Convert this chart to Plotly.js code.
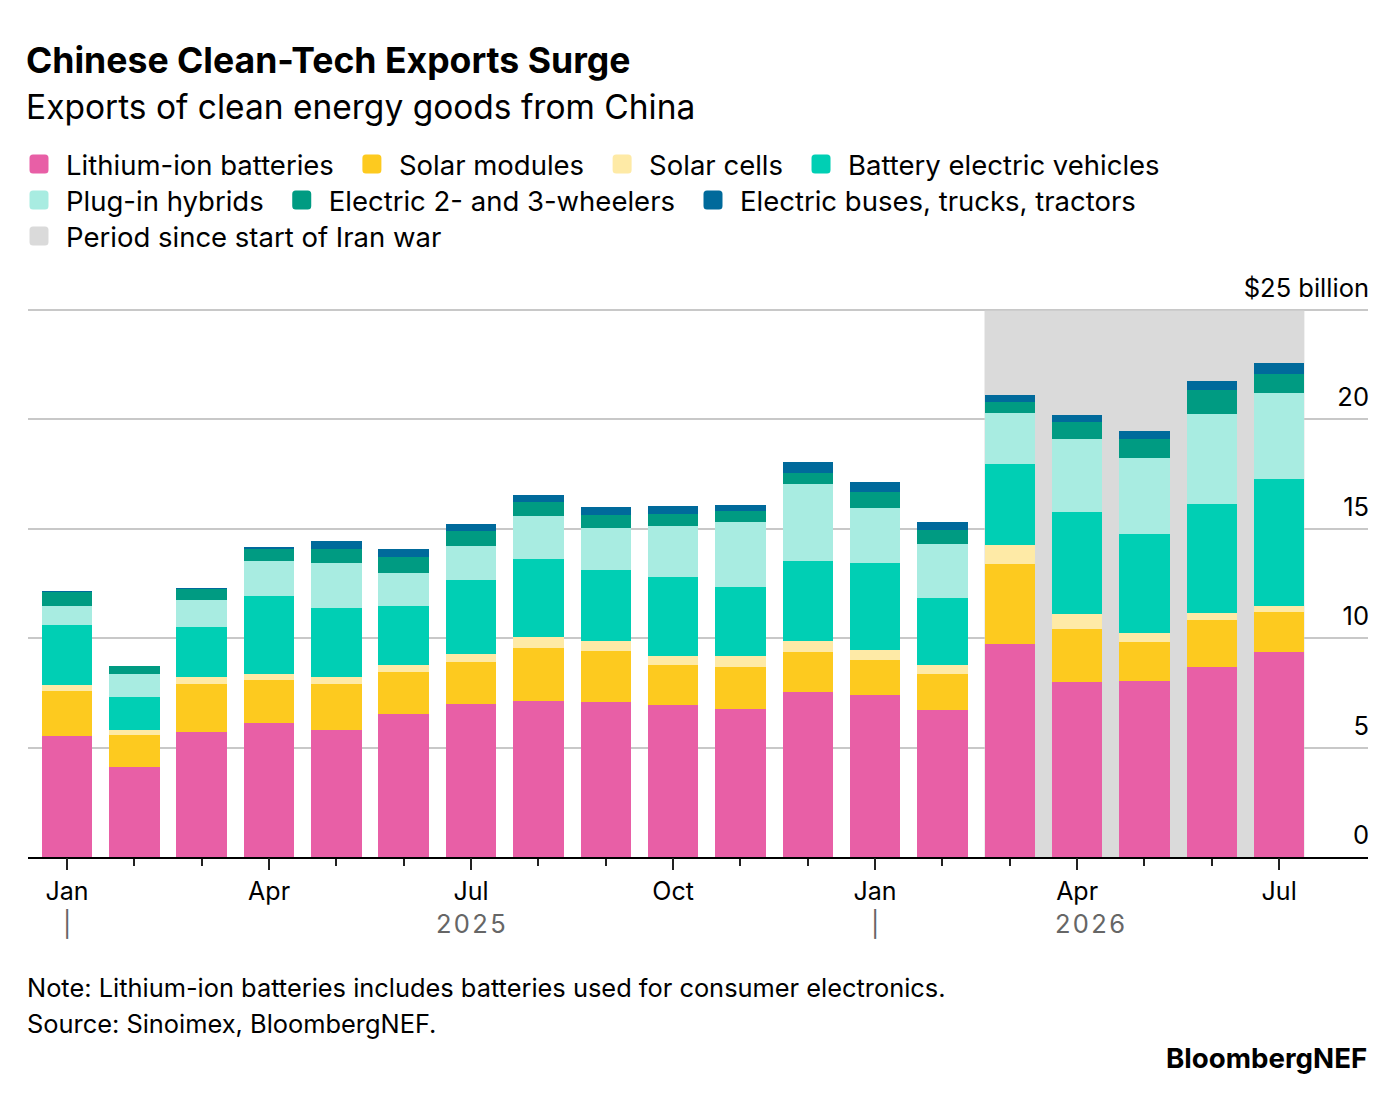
<!DOCTYPE html>
<html>
<head>
<meta charset="utf-8">
<script src="https://cdn.plot.ly/plotly-3.0.1.min.js"></script>
<style>
  html, body { margin: 0; padding: 0; background: #fff; }
  #chart { width: 1396px; height: 1102px; }
</style>
</head>
<body>
<div id="chart"></div>
<script>
// Monthly exports of clean energy goods from China, $ billion
const months = ["Jan 2025", "Feb 2025", "Mar 2025", "Apr 2025", "May 2025", "Jun 2025",
                "Jul 2025", "Aug 2025", "Sep 2025", "Oct 2025", "Nov 2025", "Dec 2025",
                "Jan 2026", "Feb 2026", "Mar 2026", "Apr 2026", "May 2026", "Jun 2026", "Jul 2026"];

const batteries    = [5.53, 4.10, 5.73, 6.10, 5.82, 6.55, 7.00, 7.12, 7.06, 6.92, 6.77, 7.54, 7.41, 6.72, 9.73, 7.98, 8.03, 8.68, 9.34];
const solarModules = [2.03, 1.45, 2.15, 1.98, 2.06, 1.92, 1.92, 2.44, 2.37, 1.83, 1.89, 1.83, 1.60, 1.62, 3.63, 2.42, 1.78, 2.16, 1.87];
const solarCells   = [0.29, 0.23, 0.32, 0.29, 0.36, 0.30, 0.33, 0.49, 0.43, 0.45, 0.54, 0.49, 0.44, 0.45, 0.91, 0.68, 0.43, 0.32, 0.26];
const bevs         = [2.73, 1.52, 2.29, 3.56, 3.13, 2.71, 3.38, 3.58, 3.23, 3.60, 3.15, 3.66, 3.99, 3.02, 3.66, 4.69, 4.53, 4.98, 5.81];
const phevs        = [0.87, 1.07, 1.23, 1.59, 2.04, 1.49, 1.58, 1.93, 1.94, 2.32, 2.94, 3.50, 2.52, 2.47, 2.34, 3.30, 3.43, 4.10, 3.92];
const wheelers     = [0.64, 0.33, 0.53, 0.56, 0.64, 0.75, 0.70, 0.64, 0.61, 0.53, 0.52, 0.52, 0.72, 0.67, 0.51, 0.80, 0.89, 1.08, 0.87];
const buses        = [0.06, 0.02, 0.02, 0.08, 0.37, 0.35, 0.30, 0.35, 0.36, 0.40, 0.25, 0.49, 0.43, 0.37, 0.33, 0.32, 0.35, 0.40, 0.48];

const yTicks = [0, 5, 10, 15, 20, 25];
const yTickText = ["0", "5", "10", "15", "20", "$25 billion"];
const labeledMonths = ["Jan", "Apr", "Jul", "Oct"];
const years = ["2025", "2026"];
const warStart = "Mar 2026";

const FONT = "Inter, 'Liberation Sans', sans-serif";
const W = 1396, H = 1102;
const BAR_GAP = 0.25;
const xRange = [-0.58, 19.32];
const yRange = [0, 25.3];   // a little headroom so the $25 billion gridline is drawn
const MARGIN = {l: 28, r: 28, t: 303.3, b: 245};

// page pixel row -> paper y (plot area bottom is 0, top is 1)
const plotH = H - MARGIN.t - MARGIN.b;
function paperY(px) { return (H - MARGIN.b - px) / plotH; }

// series: name, values, colour, which legend row
const series = [
    ["Lithium-ion batteries", batteries, "#e85fa6", "legend"],
    ["Solar modules", solarModules, "#fdca1f", "legend"],
    ["Solar cells", solarCells, "#feeaa6", "legend"],
    ["Battery electric vehicles", bevs, "#00cfb4", "legend"],
    ["Plug-in hybrids", phevs, "#a8ece1", "legend2"],
    ["Electric 2- and 3-wheelers", wheelers, "#009b82", "legend2"],
    ["Electric buses, trucks, tractors", buses, "#006a9b", "legend2"]
];

let data = series.map(s => ({
    type: "bar",
    name: s[0],
    x: months,
    y: s[1],
    marker: {color: s[2], line: {width: 0}},
    legend: s[3],
    hoverinfo: "skip"
}));

// empty trace so the overlaid label axis gets drawn
data.push({type: "scatter", x: [], y: [], xaxis: "x2", yaxis: "y", showlegend: false, hoverinfo: "skip"});

// x tick labels only on quarter months, with a year divider under January
let tickIdx = [];
let tickText = [];
months.forEach((m, i) => {
    let mon = m.slice(0, 3);
    if (labeledMonths.includes(mon)) {
        tickIdx.push(i);
        tickText.push(mon === "Jan" ? mon + "<br><span style='color:#666'>|</span>" : mon);
    }
});

// year labels centred under their months
let halfBar = (1 - BAR_GAP) / 2;
let jan26 = months.indexOf("Jan 2026");
let yearPos = [jan26 / 2, (jan26 + months.length - 1 + halfBar) / 2];

// legend rows are placed against the whole page
let legendBase = {
    orientation: "h",
    xref: "container", yref: "container",
    x: 6 / W,
    xanchor: "left",
    yanchor: "middle",
    itemwidth: 50,
    traceorder: "normal",
    bgcolor: "rgba(0,0,0,0)",
    font: {family: FONT, size: 27.5, color: "#000"}
};

let annotations = years.map((yr, i) => ({
    text: yr.split("").join("\u200a"),
    x: yearPos[i], xref: "x", y: paperY(923), yref: "paper",
    xanchor: "center", yanchor: "middle", showarrow: false,
    font: {family: FONT, size: 25.5, color: "#666"}
}));
annotations.push(
    {text: "Note: Lithium-ion batteries includes batteries used for consumer electronics.",
     x: -0.002, xref: "paper", y: paperY(987), yref: "paper", xanchor: "left", yanchor: "middle",
     showarrow: false, font: {family: FONT, size: 25.4, color: "#000"}},
    {text: "Source: Sinoimex, BloombergNEF.",
     x: -0.002, xref: "paper", y: paperY(1023), yref: "paper", xanchor: "left", yanchor: "middle",
     showarrow: false, font: {family: FONT, size: 25.4, color: "#000"}},
    {text: "<b>BloombergNEF</b>",
     x: 1.001, xref: "paper", y: paperY(1058), yref: "paper", xanchor: "right", yanchor: "middle",
     showarrow: false, font: {family: FONT, size: 27.7, color: "#000"}}
);

let layout = {
    width: W,
    height: H,
    margin: MARGIN,
    paper_bgcolor: "#fff",
    plot_bgcolor: "#fff",
    barmode: "stack",
    bargap: BAR_GAP,
    font: {family: FONT, color: "#000"},
    title: {
        text: "<b>Chinese Clean-Tech Exports Surge</b><br>" +
              "<span style='font-size:33.5px'>Exports of clean energy goods from China</span>",
        font: {family: FONT, size: 35.6, color: "#000"},
        xref: "container", x: 26 / W, xanchor: "left",
        yref: "container", y: 1 - 73 / H, yanchor: "top"
    },
    showlegend: true,
    legend: Object.assign({}, legendBase, {y: 1 - 164 / H}),
    legend2: Object.assign({}, legendBase, {y: 1 - 200 / H}),
    legend3: Object.assign({}, legendBase, {y: 1 - 236 / H}),
    xaxis: {
        type: "category",
        range: xRange,
        showgrid: false,
        zeroline: false,
        showline: true, linecolor: "#000", linewidth: 2,
        ticks: "outside", ticklen: 7, tickwidth: 2, tickcolor: "#222",
        showticklabels: false,
        fixedrange: true
    },
    xaxis2: {
        type: "linear",
        overlaying: "x",
        anchor: "y",
        side: "bottom",
        range: xRange,
        showgrid: false, zeroline: false, showline: false,
        tickmode: "array", tickvals: tickIdx, ticktext: tickText,
        ticks: "outside", ticklen: 12, tickwidth: 2, tickcolor: "#222",
        tickfont: {family: FONT, size: 25, color: "#000"},
        fixedrange: true
    },
    yaxis: {
        range: yRange,
        side: "right",
        tickmode: "array", tickvals: yTicks, ticktext: yTickText,
        ticks: "",
        ticklabelposition: "inside top",
        ticklabeloverflow: "allow",
        ticklabelshift: -4,
        ticklabelstandoff: -4,
        tickfont: {family: FONT, size: 25.5, color: "#000"},
        showgrid: true, gridcolor: "#c8c8c8", gridwidth: 2,
        zeroline: false, showline: false,
        fixedrange: true
    },
    shapes: [{
        type: "rect", xref: "x", yref: "y",
        x0: months.indexOf(warStart) - halfBar, x1: months.length - 1 + halfBar,
        y0: 0, y1: 24.95,
        fillcolor: "#dadada", line: {width: 0},
        layer: "between",
        showlegend: true, legend: "legend3",
        name: "Period since start of Iran war"
    }],
    annotations: annotations
};

// rounded square legend swatches, nudged right within the symbol slot
const swatch = "M-3,-9.5H9A3.5,3.5 0 0 1 12.5,-6V6A3.5,3.5 0 0 1 9,9.5H-3A3.5,3.5 0 0 1 -6.5,6V-6A3.5,3.5 0 0 1 -3,-9.5Z";

Plotly.newPlot("chart", data, layout, {staticPlot: true}).then(gd => {
    gd.querySelectorAll(".legendpoints path").forEach(p => p.setAttribute("d", swatch));
});
</script>
</body>
</html>
